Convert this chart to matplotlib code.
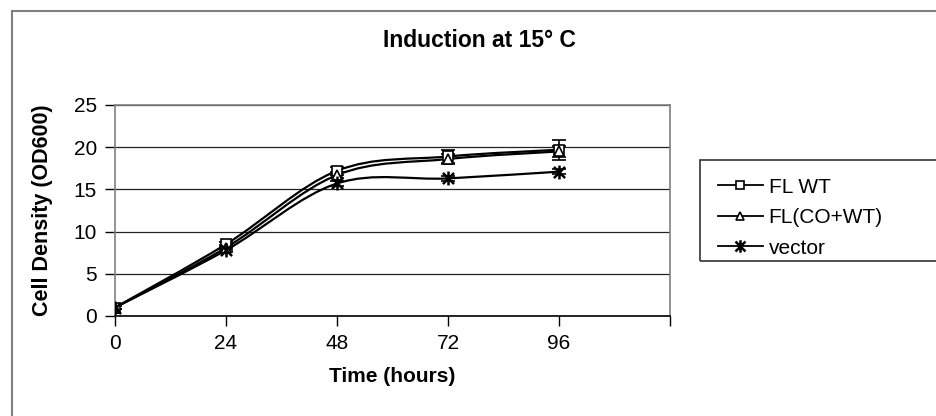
import matplotlib
matplotlib.use("Agg")
import matplotlib.pyplot as plt
from matplotlib.path import Path
from matplotlib.patches import PathPatch, Rectangle
from matplotlib.lines import Line2D

plt.rcParams['font.family'] = ['Liberation Sans', 'DejaVu Sans']

# data
hours = [0, 24, 48, 72, 96]
fl_wt = [1.0, 8.5, 17.2, 18.9, 19.7]
fl_wt_err = [0.2, 0.3, 0.5, 0.8, 1.2]
fl_co_wt = [1.0, 8.1, 16.7, 18.6, 19.5]
fl_co_wt_err = [0.2, 0.3, 0.4, 0.6, 0.7]
vector = [1.0, 7.8, 15.7, 16.3, 17.1]
vector_err = [0.2, 0.2, 0.3, 0.3, 0.3]

x_ticks = [0, 24, 48, 72, 96, 120]
x_labels = ['0', '24', '48', '72', '96', '']
y_ticks = [0, 5, 10, 15, 20, 25]


def smooth_path(xs, ys):
    # Excel-style smoothed line: cubic bezier through each point
    pts = list(zip(xs, ys))
    verts = [pts[0]]
    codes = [Path.MOVETO]
    n = len(pts)
    for i in range(n - 1):
        p0 = pts[i - 1] if i > 0 else pts[i]
        p1 = pts[i]
        p2 = pts[i + 1]
        p3 = pts[i + 2] if i + 2 < n else pts[i + 1]
        c1 = (p1[0] + (p2[0] - p0[0]) / 6, p1[1] + (p2[1] - p0[1]) / 6)
        c2 = (p2[0] - (p3[0] - p1[0]) / 6, p2[1] - (p3[1] - p1[1]) / 6)
        verts += [c1, c2, p2]
        codes += [Path.CURVE4] * 3
    return Path(verts, codes)


# asterisk marker like Excel's star
star = Path([(0, -1), (0, 1), (-0.8, -0.8), (0.8, 0.8), (-0.8, 0.8), (0.8, -0.8)],
            [Path.MOVETO, Path.LINETO] * 3)

fig = plt.figure(figsize=(9.37, 4.16), dpi=100)
ax = fig.add_axes([0.1227, 0.2404, 0.5923, 0.5072])

series = [
    ('FL WT', fl_wt, fl_wt_err, 's', 7, 1.2),
    ('FL(CO+WT)', fl_co_wt, fl_co_wt_err, '^', 7, 1.2),
    ('vector', vector, vector_err, star, 10, 1.8),
]

handles = []
for name, vals, err, mk, ms, mew in series:
    ax.add_patch(PathPatch(smooth_path(hours, vals), fill=False,
                           edgecolor='black', lw=1.6, zorder=3))
    ax.errorbar(hours, vals, yerr=err, fmt='none', ecolor='black',
                elinewidth=1.2, capsize=5, capthick=1.2, zorder=4)
    ax.plot(hours, vals, linestyle='none', marker=mk, markersize=ms,
            markerfacecolor='white', markeredgecolor='black',
            markeredgewidth=mew, zorder=5)
    handles.append(Line2D([], [], color='black', lw=1.3, marker=mk,
                          markersize=ms - 1, markerfacecolor='white',
                          markeredgecolor='black', markeredgewidth=mew,
                          label=name))

ax.set_xlim(0, 120)
ax.set_ylim(0, 25)
ax.set_xticks(x_ticks)
ax.set_xticklabels(x_labels)
ax.set_yticks(y_ticks)
ax.yaxis.grid(True, color='#222222', lw=0.9)
ax.set_axisbelow(True)
ax.tick_params(axis='both', direction='out', length=7, width=1,
               labelsize=15, pad=6, color='black')
for side in ['top', 'right']:
    ax.spines[side].set_color('#808080')
    ax.spines[side].set_linewidth(1.2)
ax.spines['left'].set_color('#808080')
ax.spines['left'].set_linewidth(1.2)
ax.spines['bottom'].set_color('black')
ax.spines['bottom'].set_linewidth(1.2)

ax.set_xlabel('Time (hours)', fontsize=15, fontweight='bold', labelpad=10)
ax.set_ylabel('Cell Density (OD600)', fontsize=15.5, fontweight='bold')
ax.yaxis.set_label_coords(-0.112, 0.5)
fig.text(0.512, 0.902, 'Induction at 15° C', ha='center', va='center',
         fontsize=16.5, fontweight='bold')

# legend box runs past the right edge, as in the original
fig.patches.append(Rectangle((700 / 937, 1 - 261 / 416), 260 / 937, 101 / 416,
                             transform=fig.transFigure, fill=False,
                             edgecolor='#333333', lw=1.2))
fig.legend(handles=handles, loc='upper left',
           bbox_to_anchor=(703 / 937, 1 - 163 / 416), frameon=False,
           fontsize=15, handlelength=2.2, handletextpad=0.25,
           labelspacing=0.55, borderpad=0.2)

# outer chart border (left and top visible)
fig.patches.append(Rectangle((12 / 937, -0.05), 1.1, 1 - 11 / 416 + 0.05,
                             transform=fig.transFigure, fill=False,
                             edgecolor='#808080', lw=1.5))

fig.savefig('out.png', dpi=100)
